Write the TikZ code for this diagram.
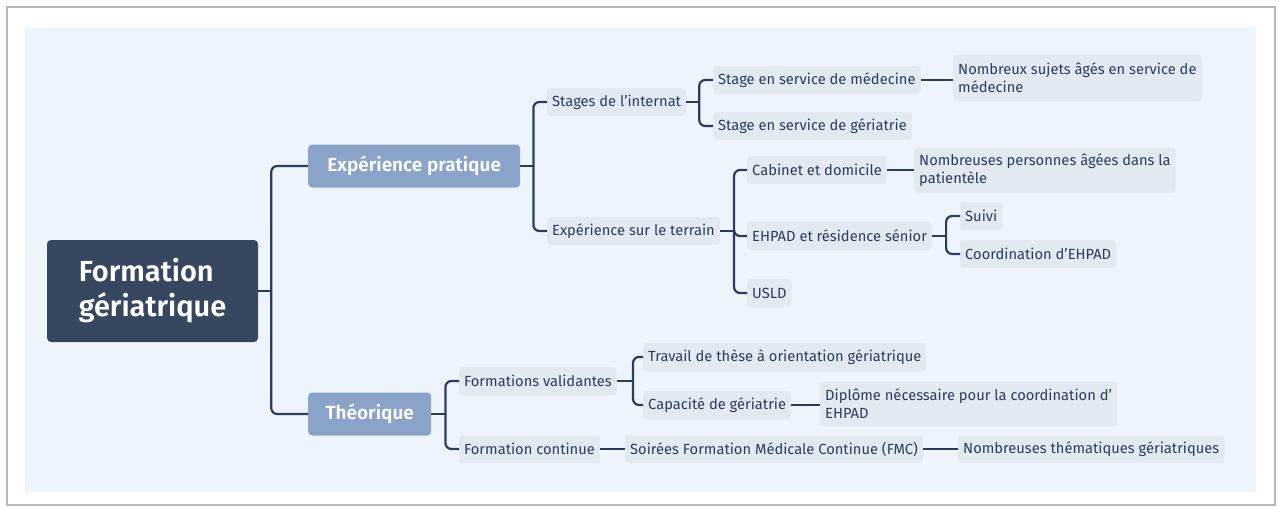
\documentclass[tikz,border=0pt]{standalone}
\usepackage{fontspec}
\setmainfont{Fira Sans}
\newfontface\semibold{Fira Sans SemiBold}
\usetikzlibrary{positioning}

\definecolor{rootblue}{HTML}{374760}
\definecolor{midblue}{HTML}{8BA3C9}
\definecolor{leafgray}{HTML}{E3E9F1}
\definecolor{paleblue}{HTML}{EDF4FB}
\definecolor{inkblue}{HTML}{2C3D59}

\tikzset{
  rootnode/.style={fill=rootblue, text=white, rounded corners=4pt, minimum width=211pt, minimum height=102pt, align=left, font=\fontsize{29}{35}\selectfont\semibold},
  topicnode/.style={fill=midblue, text=white, rounded corners=4pt, minimum height=43pt, anchor=west, font=\fontsize{19}{22}\selectfont\semibold},
  leafnode/.style={fill=leafgray, text=inkblue, rounded corners=4pt, minimum height=28pt, inner xsep=5pt, anchor=west, align=left, font=\fontsize{14.7}{18}\selectfont},
  branch/.style={draw=inkblue, line width=2.2pt, rounded corners=6pt},
}

\begin{document}
\begin{tikzpicture}[x=1pt,y=-1pt]
  % Page and background
  \useasboundingbox (0,0) rectangle (1279,506);
  \fill[white] (0,0) rectangle (1279,506);
  \draw[gray!55, line width=1.5pt] (7,7) rectangle (1275,505);
  \fill[paleblue] (25,27) rectangle (1256,492);

  % Root and main topics
  \node[rootnode] (root) at (152.5,291) {Formation\\gériatrique};
  \node[topicnode, minimum width=212pt] (exp) at (308,166) {Expérience pratique};
  \node[topicnode, minimum width=123pt] (theo) at (308,414) {Théorique};

  % Practical experience
  \node[leafnode] (stg) at (547,102) {Stages de l'internat};
  \node[leafnode] (ter) at (547,231) {Expérience sur le terrain};
  \node[leafnode] (med) at (713,80) {Stage en service de médecine};
  \node[leafnode] (ger) at (713,126) {Stage en service de gériatrie};
  \node[leafnode, minimum height=47pt] (nsa) at (953,78) {Nombreux sujets âgés en service de\\médecine};
  \node[leafnode] (cab) at (747,170) {Cabinet et domicile};
  \node[leafnode] (ehp) at (747,236) {EHPAD et résidence sénior};
  \node[leafnode] (usl) at (747,293) {USLD};
  \node[leafnode, minimum height=45pt] (npa) at (914,170) {Nombreuses personnes âgées dans la\\patientèle};
  \node[leafnode] (sui) at (960,216) {Suivi};
  \node[leafnode] (coo) at (960,254) {Coordination d'EHPAD};

  % Theory
  \node[leafnode] (fva) at (459,381) {Formations validantes};
  \node[leafnode] (fco) at (459,449) {Formation continue};
  \node[leafnode] (the) at (643,357) {Travail de thèse à orientation gériatrique};
  \node[leafnode] (cap) at (643,405) {Capacité de gériatrie};
  \node[leafnode, minimum height=45pt] (dip) at (820,404) {Diplôme nécessaire pour la coordination d'\\EHPAD};
  \node[leafnode] (soi) at (625,449) {Soirées Formation Médicale Continue (FMC)};
  \node[leafnode] (nth) at (958,449) {Nombreuses thématiques gériatriques};

  % Forks
  \draw[branch] (root.east) -- ++(13,0) coordinate (rootfork);
  \draw[branch] (exp.east) -- ++(13,0) coordinate (expfork);
  \draw[branch] (theo.east) -- ++(14,0) coordinate (theofork);
  \draw[branch] (stg.east) -- ++(13,0) coordinate (stgfork);
  \draw[branch] (ter.east) -- ++(14,0) coordinate (terfork);
  \draw[branch] (ehp.east) -- ++(14,0) coordinate (ehpfork);
  \draw[branch] (fva.east) -- ++(16,0) coordinate (fvafork);

  \foreach \c in {exp,theo} \draw[branch] (rootfork) |- (\c.west);
  \foreach \c in {stg,ter} \draw[branch] (expfork) |- (\c.west);
  \foreach \c in {fva,fco} \draw[branch] (theofork) |- (\c.west);
  \foreach \c in {med,ger} \draw[branch] (stgfork) |- (\c.west);
  \foreach \c in {cab,ehp,usl} \draw[branch] (terfork) |- (\c.west);
  \foreach \c in {sui,coo} \draw[branch] (ehpfork) |- (\c.west);
  \foreach \c in {the,cap} \draw[branch] (fvafork) |- (\c.west);

  % Single links
  \draw[branch] (med.east) -- (med.east -| nsa.west);
  \draw[branch] (cab.east) -- (cab.east -| npa.west);
  \draw[branch] (cap.east) -- (cap.east -| dip.west);
  \draw[branch] (fco.east) -- (soi.west);
  \draw[branch] (soi.east) -- (nth.west);
\end{tikzpicture}
\end{document}
